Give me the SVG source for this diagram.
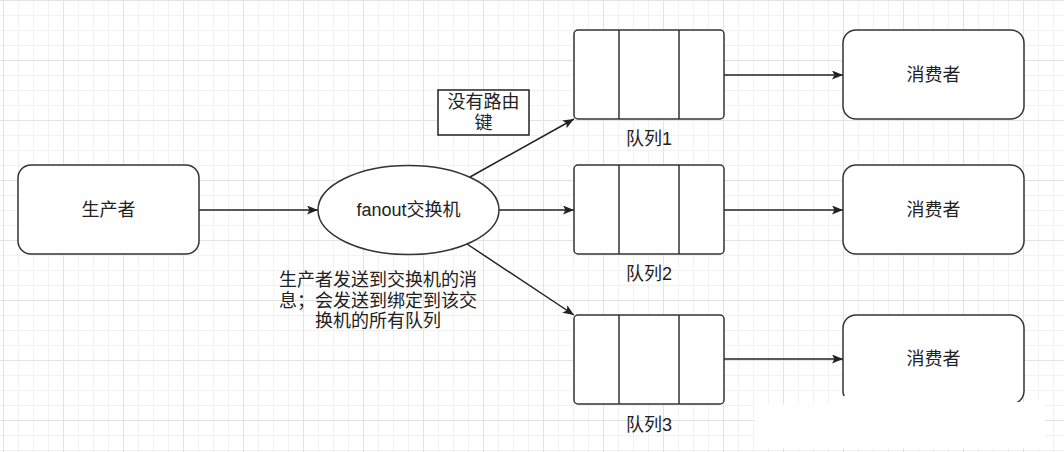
<svg xmlns="http://www.w3.org/2000/svg" width="1064" height="452" viewBox="0 0 1064 452">
<style>
.shape{fill:#fff;stroke:#333;stroke-width:1.5}
.div{stroke:#333;stroke-width:1.5;fill:none}
.edge{stroke:#222;stroke-width:1.5;fill:none;marker-end:url(#arr)}
text{font-family:"Liberation Sans","Noto Sans CJK SC",sans-serif;font-size:18px;fill:#222;text-anchor:middle;dominant-baseline:central}
.minor{stroke:#f2f2f2;stroke-width:1}
.major{stroke:#e3e3e3;stroke-width:1.2}
</style>
<defs>
<pattern id="grid" patternUnits="userSpaceOnUse" x="3" y="0" width="60" height="60">
<path class="minor" d="M15.5,0V60M30.5,0V60M45.5,0V60M0,15.5H60M0,30.5H60M0,45.5H60"/>
<path class="major" d="M0.5,0V60M0,0.5H60"/>
</pattern>
<marker id="arr" markerUnits="userSpaceOnUse" markerWidth="12" markerHeight="10" refX="11" refY="4.5" orient="auto">
<path d="M0,0 L11,4.5 L0,9 L2.5,4.5 Z" fill="#222"/>
</marker>
</defs>
<rect width="1064" height="452" fill="#fff"/>
<rect width="1064" height="452" fill="url(#grid)"/>

<g id="connectors">
<path class="edge" d="M199,210 H318"/>
<path class="edge" d="M499,210 H574"/>
<path class="edge" d="M470,177 L574,119"/>
<path class="edge" d="M467,244 L574,315"/>
<path class="edge" d="M724,75 H843"/>
<path class="edge" d="M724,210 H843"/>
<path class="edge" d="M724,359 H843"/>
</g>

<g id="producer">
<rect class="shape" x="18" y="165" width="181" height="89" rx="13"/>
<text x="108.5" y="210">生产者</text>
</g>

<g id="exchange">
<ellipse class="shape" cx="408.5" cy="210" rx="90.5" ry="44.5"/>
<text x="408.5" y="210">fanout交换机</text>
</g>

<g id="label-norouting">
<rect x="438" y="90" width="91" height="45" fill="#fff" stroke="#222" stroke-width="1.5"/>
<text x="483.5" y="102">没有路由</text>
<text x="483.5" y="123">键</text>
</g>

<g id="label-desc">
<text x="378" y="280">生产者发送到交换机的消</text>
<text x="378" y="301">息；会发送到绑定到该交</text>
<text x="378" y="321">换机的所有队列</text>
</g>

<g id="queue1">
<rect class="shape" x="574" y="30" width="150" height="89" rx="4"/>
<path class="div" d="M619,30V119M679,30V119"/>
<text x="649" y="139">队列1</text>
</g>

<g id="queue2">
<rect class="shape" x="574" y="165" width="150" height="89" rx="4"/>
<path class="div" d="M619,165V254M679,165V254"/>
<text x="649" y="274">队列2</text>
</g>

<g id="queue3">
<rect class="shape" x="574" y="315" width="150" height="89" rx="4"/>
<path class="div" d="M619,315V404M679,315V404"/>
<text x="649" y="425">队列3</text>
</g>

<g id="consumer1">
<rect class="shape" x="843" y="30" width="181" height="89" rx="13"/>
<text x="933.5" y="75">消费者</text>
</g>

<g id="consumer2">
<rect class="shape" x="843" y="165" width="181" height="89" rx="13"/>
<text x="933.5" y="210">消费者</text>
</g>

<g id="consumer3">
<rect class="shape" x="843" y="315" width="181" height="89" rx="13"/>
<text x="933.5" y="359">消费者</text>
</g>

<path d="M755,404 L842,404 L842,396 L943,396 L943,402 L1045,402 L1045,448 L755,448 Z" fill="#fff"/>
</svg>
